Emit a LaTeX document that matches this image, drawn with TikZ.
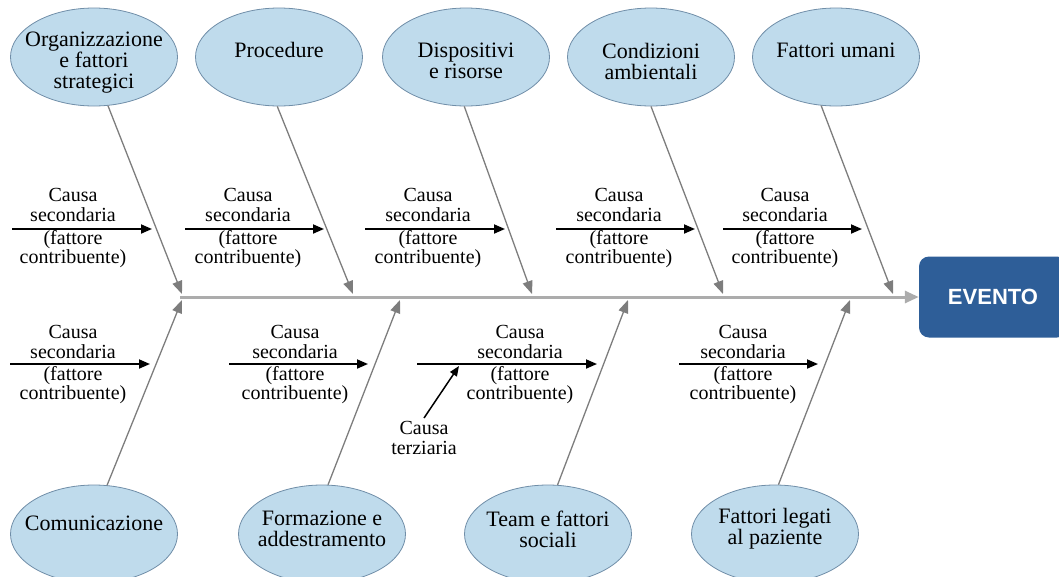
\documentclass[tikz,border=0pt]{standalone}
\usepackage{fontspec}
\setmainfont{Liberation Serif}
\setsansfont{Liberation Sans}
\usetikzlibrary{arrows.meta,shapes.geometric}

\definecolor{bubble}{RGB}{191,219,236}
\definecolor{bubbleline}{RGB}{112,142,168}
\definecolor{eventblue}{RGB}{46,94,152}
\definecolor{bonegray}{RGB}{125,125,125}
\definecolor{spinegray}{RGB}{172,172,172}

\begin{document}
\begin{tikzpicture}[x = 1pt, y = -1pt,
        cause/.style = {ellipse, draw = bubbleline, fill = bubble, line width = 0.8pt,
            minimum width = 167pt, minimum height = 98pt, inner sep = 0pt},
        causetext/.style = {align = center, font = {\fontsize{22}{21}\selectfont}},
        sectext/.style = {align = center, font = {\fontsize{20}{19.5}\selectfont}},
        bone/.style = {draw = bonegray, line width = 1.3pt, -{Triangle[length = 13pt, width = 10pt]}},
        sec/.style = {line width = 1.8pt, -{Triangle[length = 11pt, width = 9pt]}},
        event/.style = {fill = eventblue, rounded corners = 10pt, minimum width = 148pt,
            minimum height = 81pt, text = white, font = {\fontsize{22}{22}\sffamily\bfseries}}]
    \useasboundingbox (0,0) rectangle (1059,576);

    % spine
    \node[event] (evento) at (993,297) {EVENTO};
    \coordinate (tail) at (180,297);
    \draw[draw = spinegray, line width = 3pt, -{Triangle[length = 14pt, width = 12pt]}] (tail) -- (evento.west);

    % main causes, top
    \node[cause] (org) at (94,57) {};
    \node[cause] (proc) at (279,57) {};
    \node[cause] (disp) at (466,57) {};
    \node[cause] (cond) at (651,57) {};
    \node[cause] (umani) at (836,57) {};
    \node[causetext] (orgtext) at (94,63) {Organizzazione\\e fattori\\strategici};
    \node[causetext] (proctext) at (279,50) {Procedure};
    \node[causetext] (disptext) at (466,61) {Dispositivi\\e risorse};
    \node[causetext] (condtext) at (651,61) {Condizioni\\ambientali};
    \node[causetext] (umanitext) at (836,50) {Fattori umani};

    % main causes, bottom
    \node[cause] (com) at (94,534) {};
    \node[cause] (form) at (322,534) {};
    \node[cause] (team) at (548,534) {};
    \node[cause] (paz) at (775,534) {};
    \node[causetext] (comtext) at (94,523) {Comunicazione};
    \node[causetext] (formtext) at (322,529) {Formazione e\\addestramento};
    \node[causetext] (teamtext) at (548,529) {Team e fattori\\sociali};
    \node[causetext] (paztext) at (775,529) {Fattori legati\\al paziente};

    % bones
    \coordinate (t1) at (182,294);
    \coordinate (t2) at (353,294);
    \coordinate (t3) at (532,294);
    \coordinate (t4) at (723,294);
    \coordinate (t5) at (893,294);
    \coordinate (b1) at (182,300);
    \coordinate (b2) at (400,300);
    \coordinate (b3) at (628,300);
    \coordinate (b4) at (850,300);
    \begin{scope}[style = bone]
        \draw (org.-74) -- (t1);
        \draw (proc.-92) -- (t2);
        \draw (disp.-92) -- (t3);
        \draw (cond.-90) -- (t4);
        \draw (umani.-107) -- (t5);
        \draw (com.75) -- (b1);
        \draw (form.83) -- (b2);
        \draw (team.79) -- (b3);
        \draw (paz.86) -- (b4);
    \end{scope}

    % secondary causes, top
    \coordinate (s1a) at (12,229);   \coordinate (s1b) at (152,229);
    \coordinate (s2a) at (185,229);  \coordinate (s2b) at (324,229);
    \coordinate (s3a) at (365,229);  \coordinate (s3b) at (505,229);
    \coordinate (s4a) at (556,229);  \coordinate (s4b) at (695,229);
    \coordinate (s5a) at (723,229);  \coordinate (s5b) at (862,229);
    \begin{scope}[style = sec]
        \draw (s1a) -- (s1b);
        \draw (s2a) -- (s2b);
        \draw (s3a) -- (s3b);
        \draw (s4a) -- (s4b);
        \draw (s5a) -- (s5b);
    \end{scope}
    \node[sectext] (s1u) at (73,205) {Causa\\secondaria};
    \node[sectext] (s1d) at (73,249) {(fattore\\contribuente)};
    \node[sectext] (s2u) at (248,205) {Causa\\secondaria};
    \node[sectext] (s2d) at (248,249) {(fattore\\contribuente)};
    \node[sectext] (s3u) at (428,205) {Causa\\secondaria};
    \node[sectext] (s3d) at (428,249) {(fattore\\contribuente)};
    \node[sectext] (s4u) at (619,205) {Causa\\secondaria};
    \node[sectext] (s4d) at (619,249) {(fattore\\contribuente)};
    \node[sectext] (s5u) at (785,205) {Causa\\secondaria};
    \node[sectext] (s5d) at (785,249) {(fattore\\contribuente)};

    % secondary causes, bottom
    \coordinate (r1a) at (10,364);   \coordinate (r1b) at (150,364);
    \coordinate (r2a) at (229,364);  \coordinate (r2b) at (368,364);
    \coordinate (r3a) at (417,364);  \coordinate (r3b) at (597,364);
    \coordinate (r4a) at (679,364);  \coordinate (r4b) at (818,364);
    \begin{scope}[style = sec]
        \draw (r1a) -- (r1b);
        \draw (r2a) -- (r2b);
        \draw (r3a) -- (r3b);
        \draw (r4a) -- (r4b);
    \end{scope}
    \node[sectext] (r1u) at (73,342) {Causa\\secondaria};
    \node[sectext] (r1d) at (73,385) {(fattore\\contribuente)};
    \node[sectext] (r2u) at (295,342) {Causa\\secondaria};
    \node[sectext] (r2d) at (295,385) {(fattore\\contribuente)};
    \node[sectext] (r3u) at (520,342) {Causa\\secondaria};
    \node[sectext] (r3d) at (520,385) {(fattore\\contribuente)};
    \node[sectext] (r4u) at (743,342) {Causa\\secondaria};
    \node[sectext] (r4d) at (743,385) {(fattore\\contribuente)};

    % tertiary cause
    \node[sectext] (terz) at (424,438) {Causa\\terziaria};
    \coordinate (tz) at (459,366);
    \draw[line width = 1.5pt, -{Triangle[length = 10pt, width = 8pt]}] (terz.north) -- (tz);
\end{tikzpicture}
\end{document}
